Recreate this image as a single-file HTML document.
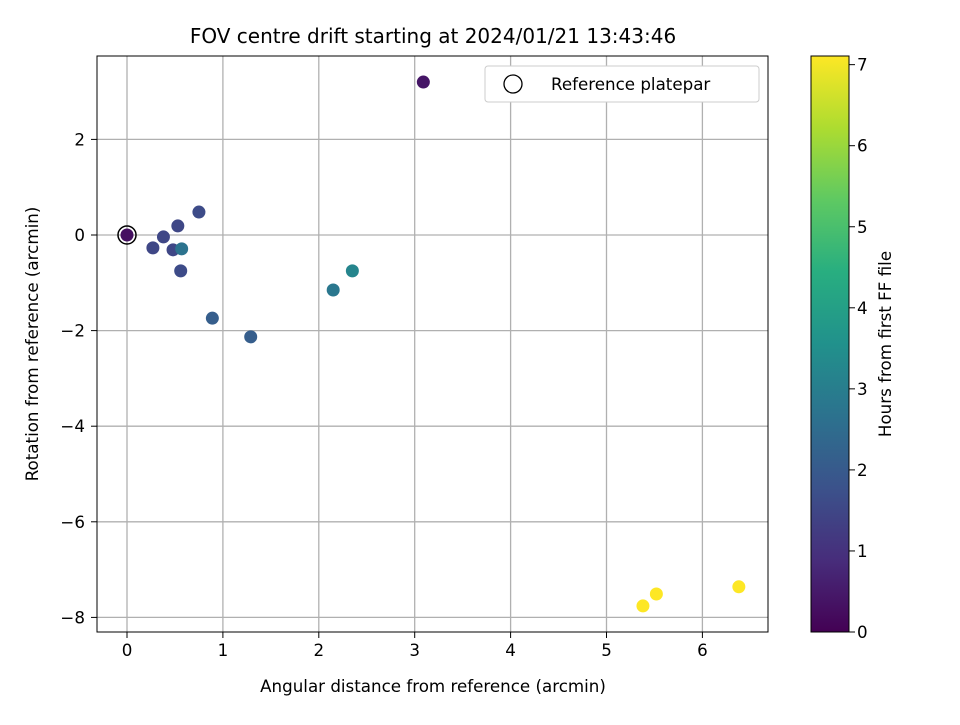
<!DOCTYPE html>
<html><head><meta charset="utf-8"><style>
body{margin:0;background:#fff;}
svg text{font-family:"DejaVu Sans","Liberation Sans",sans-serif;fill:#000;}
</style></head><body>
<svg id="chart" width="960" height="720" xmlns="http://www.w3.org/2000/svg">
<defs><linearGradient id="vir" x1="0" y1="1" x2="0" y2="0">
<stop offset="0" stop-color="#440154"/><stop offset="0.125" stop-color="#472d7b"/><stop offset="0.25" stop-color="#3b528b"/><stop offset="0.375" stop-color="#2c728e"/><stop offset="0.5" stop-color="#21918c"/><stop offset="0.625" stop-color="#28ae80"/><stop offset="0.75" stop-color="#5ec962"/><stop offset="0.875" stop-color="#addc30"/><stop offset="1" stop-color="#fde725"/>
</linearGradient></defs>
<text x="433" y="43" font-size="20" text-anchor="middle">FOV centre drift starting at 2024/01/21 13:43:46</text>
<g id="grid"></g><g id="ticks"></g><g id="pts"></g>
<rect x="97" y="56" width="671" height="576" fill="none" stroke="#000" stroke-width="1"/>
<text x="433" y="692" font-size="16.7" text-anchor="middle">Angular distance from reference (arcmin)</text>
<text transform="translate(38,344) rotate(-90)" font-size="16.7" text-anchor="middle">Rotation from reference (arcmin)</text>
<g>
<rect x="485" y="66" width="274" height="36" rx="3" fill="#fff" stroke="#ccc"/>
<circle cx="513" cy="84" r="9" fill="none" stroke="#000" stroke-width="1.3"/>
<text x="551" y="90" font-size="16.7">Reference platepar</text>
</g>
<rect x="811" y="56" width="38" height="576" fill="url(#vir)" stroke="#000" stroke-width="1"/>
<g id="cbticks"></g>
<text transform="translate(891,344) rotate(-90)" font-size="16.7" text-anchor="middle">Hours from first FF file</text>
</svg>
<script>
const xs=[0,3.09,0.27,0.38,0.53,0.75,0.48,0.57,0.56,0.89,1.29,2.15,2.35,5.38,5.52,6.38];
const ys=[0,3.2,-0.27,-0.04,0.19,0.48,-0.31,-0.29,-0.75,-1.74,-2.13,-1.15,-0.75,-7.76,-7.51,-7.36];
const hrs=[0.3,0.4,1.5,1.5,1.5,1.6,1.5,2.7,1.6,2.1,2.1,2.8,3.2,7.1,7.1,7.1];
const xTicks=[0,1,2,3,4,5,6];
const yTicks=[2,0,-2,-4,-6,-8];
const cTicks=[0,1,2,3,4,5,6,7];
const NS="http://www.w3.org/2000/svg";
const X=v=>127+v*95.9, Y=v=>235-v*47.8, C=v=>632-v*81.05;
const stops=["#440154","#472d7b","#3b528b","#2c728e","#21918c","#28ae80","#5ec962","#addc30","#fde725"];
function hex(h){return [1,3,5].map(i=>parseInt(h.substr(i,2),16));}
function vir(t){t=Math.max(0,Math.min(1,t))*8;const i=Math.min(7,Math.floor(t)),f=t-i;const a=hex(stops[i]),b=hex(stops[i+1]);return "rgb("+a.map((v,k)=>Math.round(v+(b[k]-v)*f)).join(",")+")";}
function mk(tag,attrs,parent,txt){const e=document.createElementNS(NS,tag);for(const k in attrs)e.setAttribute(k,attrs[k]);if(txt!==undefined)e.textContent=txt;document.getElementById(parent).appendChild(e);return e;}
xTicks.forEach(t=>{const g=mk("line",{x1:X(t),x2:X(t),y1:56,y2:632,stroke:"#b0b0b0","stroke-width":1.3},"grid");

mk("line",{x1:X(t),x2:X(t),y1:632,y2:638,stroke:"#000"},"ticks");
const l=mk("text",{x:X(t),y:656,"font-size":16.7,"text-anchor":"middle"},"ticks",String(t));
});
yTicks.forEach(t=>{const g=mk("line",{x1:97,x2:768,y1:Y(t),y2:Y(t),stroke:"#b0b0b0","stroke-width":1.3},"grid");

mk("line",{x1:91,x2:97,y1:Y(t),y2:Y(t),stroke:"#000"},"ticks");
const l=mk("text",{x:85,y:Y(t)+6,"font-size":16.7,"text-anchor":"end"},"ticks",t<0?"\u2212"+(-t):String(t));
});
cTicks.forEach(t=>{mk("line",{x1:849,x2:855,y1:C(t),y2:C(t),stroke:"#000"},"cbticks");
const l=mk("text",{x:857,y:C(t)+6,"font-size":16.7},"cbticks",String(t));
});
xs.forEach((x,i)=>{const p=mk("circle",{cx:X(x),cy:Y(ys[i]),r:6.5,fill:vir(hrs[i]/7.1)},"pts");
});
const r=mk("circle",{cx:X(0),cy:Y(0),r:9,fill:"none",stroke:"#000","stroke-width":1.5},"pts");

</script>
</body></html>
